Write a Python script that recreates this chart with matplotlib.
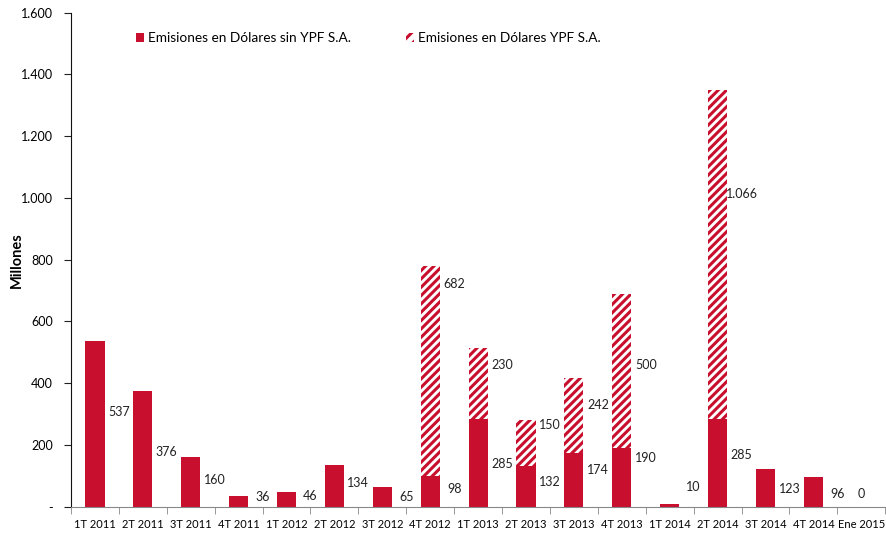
import numpy as np
import matplotlib
matplotlib.use("Agg")
import matplotlib.pyplot as plt
from matplotlib.patches import Patch
from matplotlib.ticker import FuncFormatter

# data (millones de USD)
quarters = ["1T 2011", "2T 2011", "3T 2011", "4T 2011", "1T 2012", "2T 2012",
            "3T 2012", "4T 2012", "1T 2013", "2T 2013", "3T 2013", "4T 2013",
            "1T 2014", "2T 2014", "3T 2014", "4T 2014", "Ene 2015"]
sin_ypf = [537, 376, 160, 36, 46, 134, 65, 98, 285, 132, 174, 190, 10, 285, 123, 96, 0]
ypf = [0, 0, 0, 0, 0, 0, 0, 682, 230, 150, 242, 500, 0, 1066, 0, 0, 0]

# heights where the value labels sit (as in the original chart)
label_y_sin = [307, 177, 86, 31, 35, 77, 31, 57, 138, 80, 119, 158, 65, 168, 57, 41, 41]
label_y_ypf = [None, None, None, None, None, None, None, 721, 459, 265, 329, 459,
               None, 1012, None, None, None]

RED = "#C8102E"
plt.rcParams["font.family"] = ["Lato", "DejaVu Sans"]
plt.rcParams["hatch.linewidth"] = 2.2


def fmt_miles(v):
    s = "{:,.0f}".format(v).replace(",", ".")
    return s


fig = plt.figure(figsize=(8.87, 5.34), dpi=100)
ax = fig.add_axes([71/887, 1 - 506.7/534, 1 - 71/887 - 0.002, (506.7 - 12.7)/534])

x = np.arange(len(quarters))
w = 0.4
ax.bar(x, sin_ypf, w, color=RED, linewidth=0)
ax.bar(x, ypf, w, bottom=sin_ypf, facecolor="white", edgecolor=RED,
       hatch="////", linewidth=0)

for i in range(len(quarters)):
    # the last one (zero) sits on its own category
    lx = i + 0.5 if i < len(quarters) - 1 else i
    ax.text(lx, label_y_sin[i], fmt_miles(sin_ypf[i]), ha="center",
            va="center", fontsize=9, color="#222222")
    if ypf[i] > 0:
        ax.text(lx, label_y_ypf[i], fmt_miles(ypf[i]), ha="center",
                va="center", fontsize=9, color="#222222")

ax.set_xlim(-0.5, len(quarters) - 0.5)
ax.set_ylim(0, 1600)
ax.set_yticks(np.arange(0, 1601, 200))
ax.yaxis.set_major_formatter(FuncFormatter(lambda v, p: "-" if v == 0 else fmt_miles(v)))
ax.set_xticks(x)
ax.set_xticklabels(quarters)
ax.set_xticks(np.arange(-0.5, len(quarters), 1), minor=True)
ax.tick_params(axis="x", which="major", length=0, pad=9, labelsize=8)
ax.tick_params(axis="x", which="minor", length=5, color="#888888")
ax.tick_params(axis="y", length=5, pad=8, labelsize=9, color="#222222")

for s in ["top", "right"]:
    ax.spines[s].set_visible(False)
ax.spines["bottom"].set_color("#888888")
ax.spines["left"].set_color("#111111")

fig.text(17/887, 1 - 260/534, "Millones", rotation=90, ha="center", va="center",
         fontsize=10.5, fontweight="bold")

handles = [Patch(facecolor=RED, linewidth=0),
           Patch(facecolor="white", edgecolor=RED, hatch="///", linewidth=0)]
fig.legend(handles, ["Emisiones en Dólares sin YPF S.A.", "Emisiones en Dólares YPF S.A."],
           loc="center left", bbox_to_anchor=(136/887, 1 - 38/534), ncol=2,
           frameon=False, borderpad=0, borderaxespad=0, handlelength=0.6,
           handleheight=0.6, handletextpad=0.3, columnspacing=4.0, fontsize=9.8)

fig.savefig("out.png", dpi=100)
